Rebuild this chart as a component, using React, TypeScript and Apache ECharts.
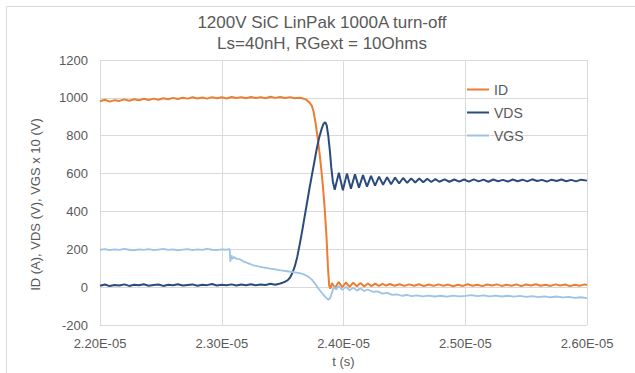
import React, { useEffect, useRef } from "react";
import * as echarts from "echarts";

// ---- texts ----
const titleLines = ["1200V SiC LinPak 1000A turn-off", "Ls=40nH, RGext = 10Ohms"];
const xAxisTitle = "t (s)";
const yAxisTitle = "ID (A), VDS (V), VGS x 10 (V)";
const seriesNames = ["ID", "VDS", "VGS"];
const seriesColors = ["#ED7D31", "#2B4B7C", "#9DC3E6"];

// ---- axes (time in microseconds; labels shown in seconds) ----
const xMin = 22;
const xMax = 26;
const xStep = 1;
const yMin = -200;
const yMax = 1200;
const yStep = 200;

// ---- series data: [time (µs), value] ----
const idData: [number, number][] = [
  [22.0, 982], [22.04, 990], [22.08, 980], [22.12, 988], [22.16, 984], [22.2, 992], [22.24, 985],
  [22.28, 993], [22.32, 987], [22.36, 995], [22.4, 989], [22.44, 996], [22.48, 990], [22.52, 998],
  [22.56, 993], [22.6, 1000], [22.64, 994], [22.68, 1001], [22.72, 996], [22.76, 1003], [22.8, 997],
  [22.84, 1002], [22.88, 996], [22.92, 1004], [22.96, 998], [23.0, 1003], [23.04, 997], [23.08, 1005],
  [23.12, 999], [23.16, 1004], [23.2, 998], [23.24, 1005], [23.28, 999], [23.32, 1004], [23.36, 998],
  [23.4, 1006], [23.44, 1000], [23.48, 1005], [23.52, 999], [23.56, 1004], [23.6, 998], [23.64, 1001],
  [23.66, 998], [23.69, 992], [23.72, 976], [23.74, 958], [23.755, 925], [23.77, 870], [23.785, 800],
  [23.8, 725], [23.815, 640], [23.83, 540], [23.845, 420], [23.86, 270], [23.872, 110], [23.882, 10],
  [23.892, -8], [23.905, 22], [23.93, -4], [23.96, 28], [23.99, 0], [24.02, 25], [24.05, 2], [24.08, 24],
  [24.11, 5], [24.14, 22], [24.17, 4], [24.2, 20], [24.23, 6], [24.26, 19], [24.29, 7], [24.32, 18],
  [24.35, 8], [24.38, 17], [24.42, 8], [24.46, 16], [24.5, 7], [24.54, 15], [24.58, 8], [24.62, 16],
  [24.66, 6], [24.7, 14], [24.74, 7], [24.78, 15], [24.82, 8], [24.86, 14], [24.9, 5], [24.94, 13],
  [24.98, 7], [25.02, 16], [25.06, 8], [25.1, 13], [25.14, 6], [25.18, 14], [25.22, 9], [25.26, 15],
  [25.3, 7], [25.34, 13], [25.38, 8], [25.42, 15], [25.46, 6], [25.5, 14], [25.54, 9], [25.58, 16],
  [25.62, 8], [25.66, 13], [25.7, 7], [25.74, 15], [25.78, 9], [25.82, 14], [25.86, 6], [25.9, 13],
  [25.94, 8], [25.98, 15], [26.0, 12],
];

const vdsData: [number, number][] = [
  [22.0, 8], [22.04, 14], [22.08, 6], [22.12, 12], [22.16, 9], [22.2, 15], [22.24, 7], [22.28, 13],
  [22.32, 10], [22.36, 16], [22.4, 8], [22.44, 12], [22.48, 14], [22.52, 7], [22.56, 13], [22.6, 10],
  [22.64, 16], [22.68, 9], [22.72, 12], [22.76, 15], [22.8, 8], [22.84, 13], [22.88, 11], [22.92, 17],
  [22.96, 9], [23.0, 13], [23.04, 10], [23.08, 15], [23.12, 9], [23.16, 14], [23.2, 11], [23.24, 16],
  [23.28, 10], [23.32, 14], [23.36, 12], [23.4, 18], [23.44, 13], [23.48, 20], [23.5, 24], [23.52, 29],
  [23.54, 36], [23.56, 50], [23.58, 75], [23.6, 110], [23.62, 160], [23.64, 225], [23.66, 295],
  [23.68, 370], [23.7, 445], [23.72, 520], [23.74, 590], [23.76, 660], [23.78, 730], [23.8, 790],
  [23.82, 835], [23.835, 862], [23.85, 872], [23.862, 855], [23.875, 800], [23.888, 720], [23.9, 630],
  [23.912, 560], [23.928, 515], [23.962, 605], [23.995, 512], [24.028, 600], [24.061, 520],
  [24.094, 596], [24.127, 526], [24.16, 592], [24.193, 531], [24.226, 588], [24.259, 537],
  [24.292, 584], [24.325, 541], [24.358, 581], [24.391, 544], [24.424, 579], [24.457, 548],
  [24.49, 577], [24.523, 551], [24.556, 575], [24.589, 553], [24.622, 574], [24.655, 554],
  [24.688, 573], [24.721, 556], [24.754, 571], [24.787, 557], [24.83, 570], [24.87, 557], [24.91, 569],
  [24.95, 558], [24.99, 569], [25.03, 558], [25.07, 570], [25.11, 559], [25.15, 568], [25.19, 557],
  [25.23, 569], [25.27, 560], [25.31, 567], [25.35, 558], [25.39, 569], [25.43, 560], [25.47, 568],
  [25.51, 559], [25.55, 570], [25.59, 561], [25.63, 567], [25.67, 558], [25.71, 568], [25.75, 561],
  [25.79, 569], [25.83, 560], [25.87, 567], [25.91, 559], [25.95, 568], [26.0, 563],
];

const vgsData: [number, number][] = [
  [22.0, 198], [22.04, 201], [22.08, 196], [22.12, 200], [22.16, 197], [22.2, 202], [22.24, 198],
  [22.28, 195], [22.32, 200], [22.36, 197], [22.4, 201], [22.44, 196], [22.48, 199], [22.52, 202],
  [22.56, 197], [22.6, 200], [22.64, 195], [22.68, 199], [22.72, 201], [22.76, 196], [22.8, 200],
  [22.84, 197], [22.88, 202], [22.92, 198], [22.96, 196], [23.0, 200], [23.04, 198], [23.065, 201],
  [23.07, 135], [23.08, 168], [23.09, 150], [23.1, 160], [23.12, 150], [23.15, 148], [23.18, 135],
  [23.22, 126], [23.26, 116], [23.3, 110], [23.35, 104], [23.4, 98], [23.45, 93], [23.5, 88],
  [23.55, 83], [23.6, 78], [23.64, 74], [23.68, 66], [23.71, 56], [23.74, 40], [23.77, 16],
  [23.8, -12], [23.83, -36], [23.855, -55], [23.875, -66], [23.89, -58], [23.905, -30], [23.92, 2],
  [23.94, -12], [23.96, 6], [23.99, -14], [24.02, 2], [24.05, -16], [24.08, -2], [24.11, -18],
  [24.14, -6], [24.17, -20], [24.2, -12], [24.24, -24], [24.28, -22], [24.32, -34], [24.36, -30],
  [24.4, -40], [24.44, -38], [24.48, -45], [24.52, -41], [24.56, -47], [24.6, -43], [24.65, -48],
  [24.7, -44], [24.75, -49], [24.8, -45], [24.85, -50], [24.9, -44], [24.95, -48], [25.0, -46],
  [25.05, -42], [25.1, -47], [25.15, -43], [25.2, -48], [25.25, -44], [25.3, -49], [25.35, -45],
  [25.4, -50], [25.45, -46], [25.5, -51], [25.55, -47], [25.6, -52], [25.65, -48], [25.7, -53],
  [25.75, -49], [25.8, -54], [25.85, -51], [25.9, -56], [25.95, -53], [26.0, -57],
];

const FONT = "'Liberation Sans', Arial, sans-serif";
const TEXT = "#595959";
const GRID = "#D9D9D9";

export default function App() {
  const ref = useRef<HTMLDivElement>(null);

  useEffect(() => {
    if (!ref.current) return;
    const chart = echarts.init(ref.current, null, { renderer: "svg" });
    const allData = [idData, vdsData, vgsData];
    chart.setOption({
      animation: false,
      backgroundColor: "#ffffff",
      textStyle: { fontFamily: FONT },
      title: {
        text: titleLines.join("\n"),
        left: 322,
        top: 12,
        padding: 0,
        textAlign: "center",
        textStyle: {
          fontFamily: FONT,
          fontSize: 17,
          fontWeight: "normal",
          color: TEXT,
          lineHeight: 21,
        },
      },
      graphic: [
        {
          type: "rect",
          shape: { x: 6.5, y: 6.5, width: 640, height: 380 },
          style: { fill: "none", stroke: GRID, lineWidth: 1 },
          silent: true,
        },
      ],
      legend: {
        orient: "vertical",
        left: 462,
        top: 77,
        itemWidth: 22,
        itemHeight: 2,
        itemGap: 8,
        icon: "rect",
        data: seriesNames,
        textStyle: { fontFamily: FONT, fontSize: 14, color: TEXT, lineHeight: 15 },
      },
      grid: { left: 100, right: 48, top: 60, bottom: 46, containLabel: false },
      xAxis: {
        type: "value",
        min: xMin,
        max: xMax,
        interval: xStep,
        name: xAxisTitle,
        nameLocation: "middle",
        nameGap: 28,
        nameTextStyle: { fontFamily: FONT, fontSize: 13, color: TEXT },
        axisLine: { show: false },
        axisTick: { show: false },
        axisLabel: {
          margin: 12,
          fontFamily: FONT,
          fontSize: 13,
          color: TEXT,
          formatter: (v: number) => (v / 10).toFixed(2) + "E-05",
        },
        splitLine: { show: true, lineStyle: { color: GRID, width: 1 } },
      },
      yAxis: {
        type: "value",
        min: yMin,
        max: yMax,
        interval: yStep,
        name: yAxisTitle,
        nameLocation: "middle",
        nameGap: 58,
        nameTextStyle: { fontFamily: FONT, fontSize: 13, color: TEXT, padding: [0, 24, 0, 0] },
        axisLine: { show: false },
        axisTick: { show: false },
        axisLabel: {
          margin: 12,
          fontFamily: FONT,
          fontSize: 13,
          color: TEXT,
          formatter: (v: number) => String(v),
        },
        splitLine: { show: true, lineStyle: { color: GRID, width: 1 } },
      },
      series: seriesNames.map((name, i) => ({
        name,
        type: "line",
        data: allData[i],
        showSymbol: false,
        symbol: "none",
        smooth: false,
        color: seriesColors[i],
        lineStyle: { color: seriesColors[i], width: i === 2 ? 1.8 : 2 },
      })),
    });
    return () => chart.dispose();
  }, []);

  return (
    <div
      ref={ref}
      style={{ position: "fixed", left: 0, top: 0, width: 635, height: 373, background: "#fff" }}
    />
  );
}
